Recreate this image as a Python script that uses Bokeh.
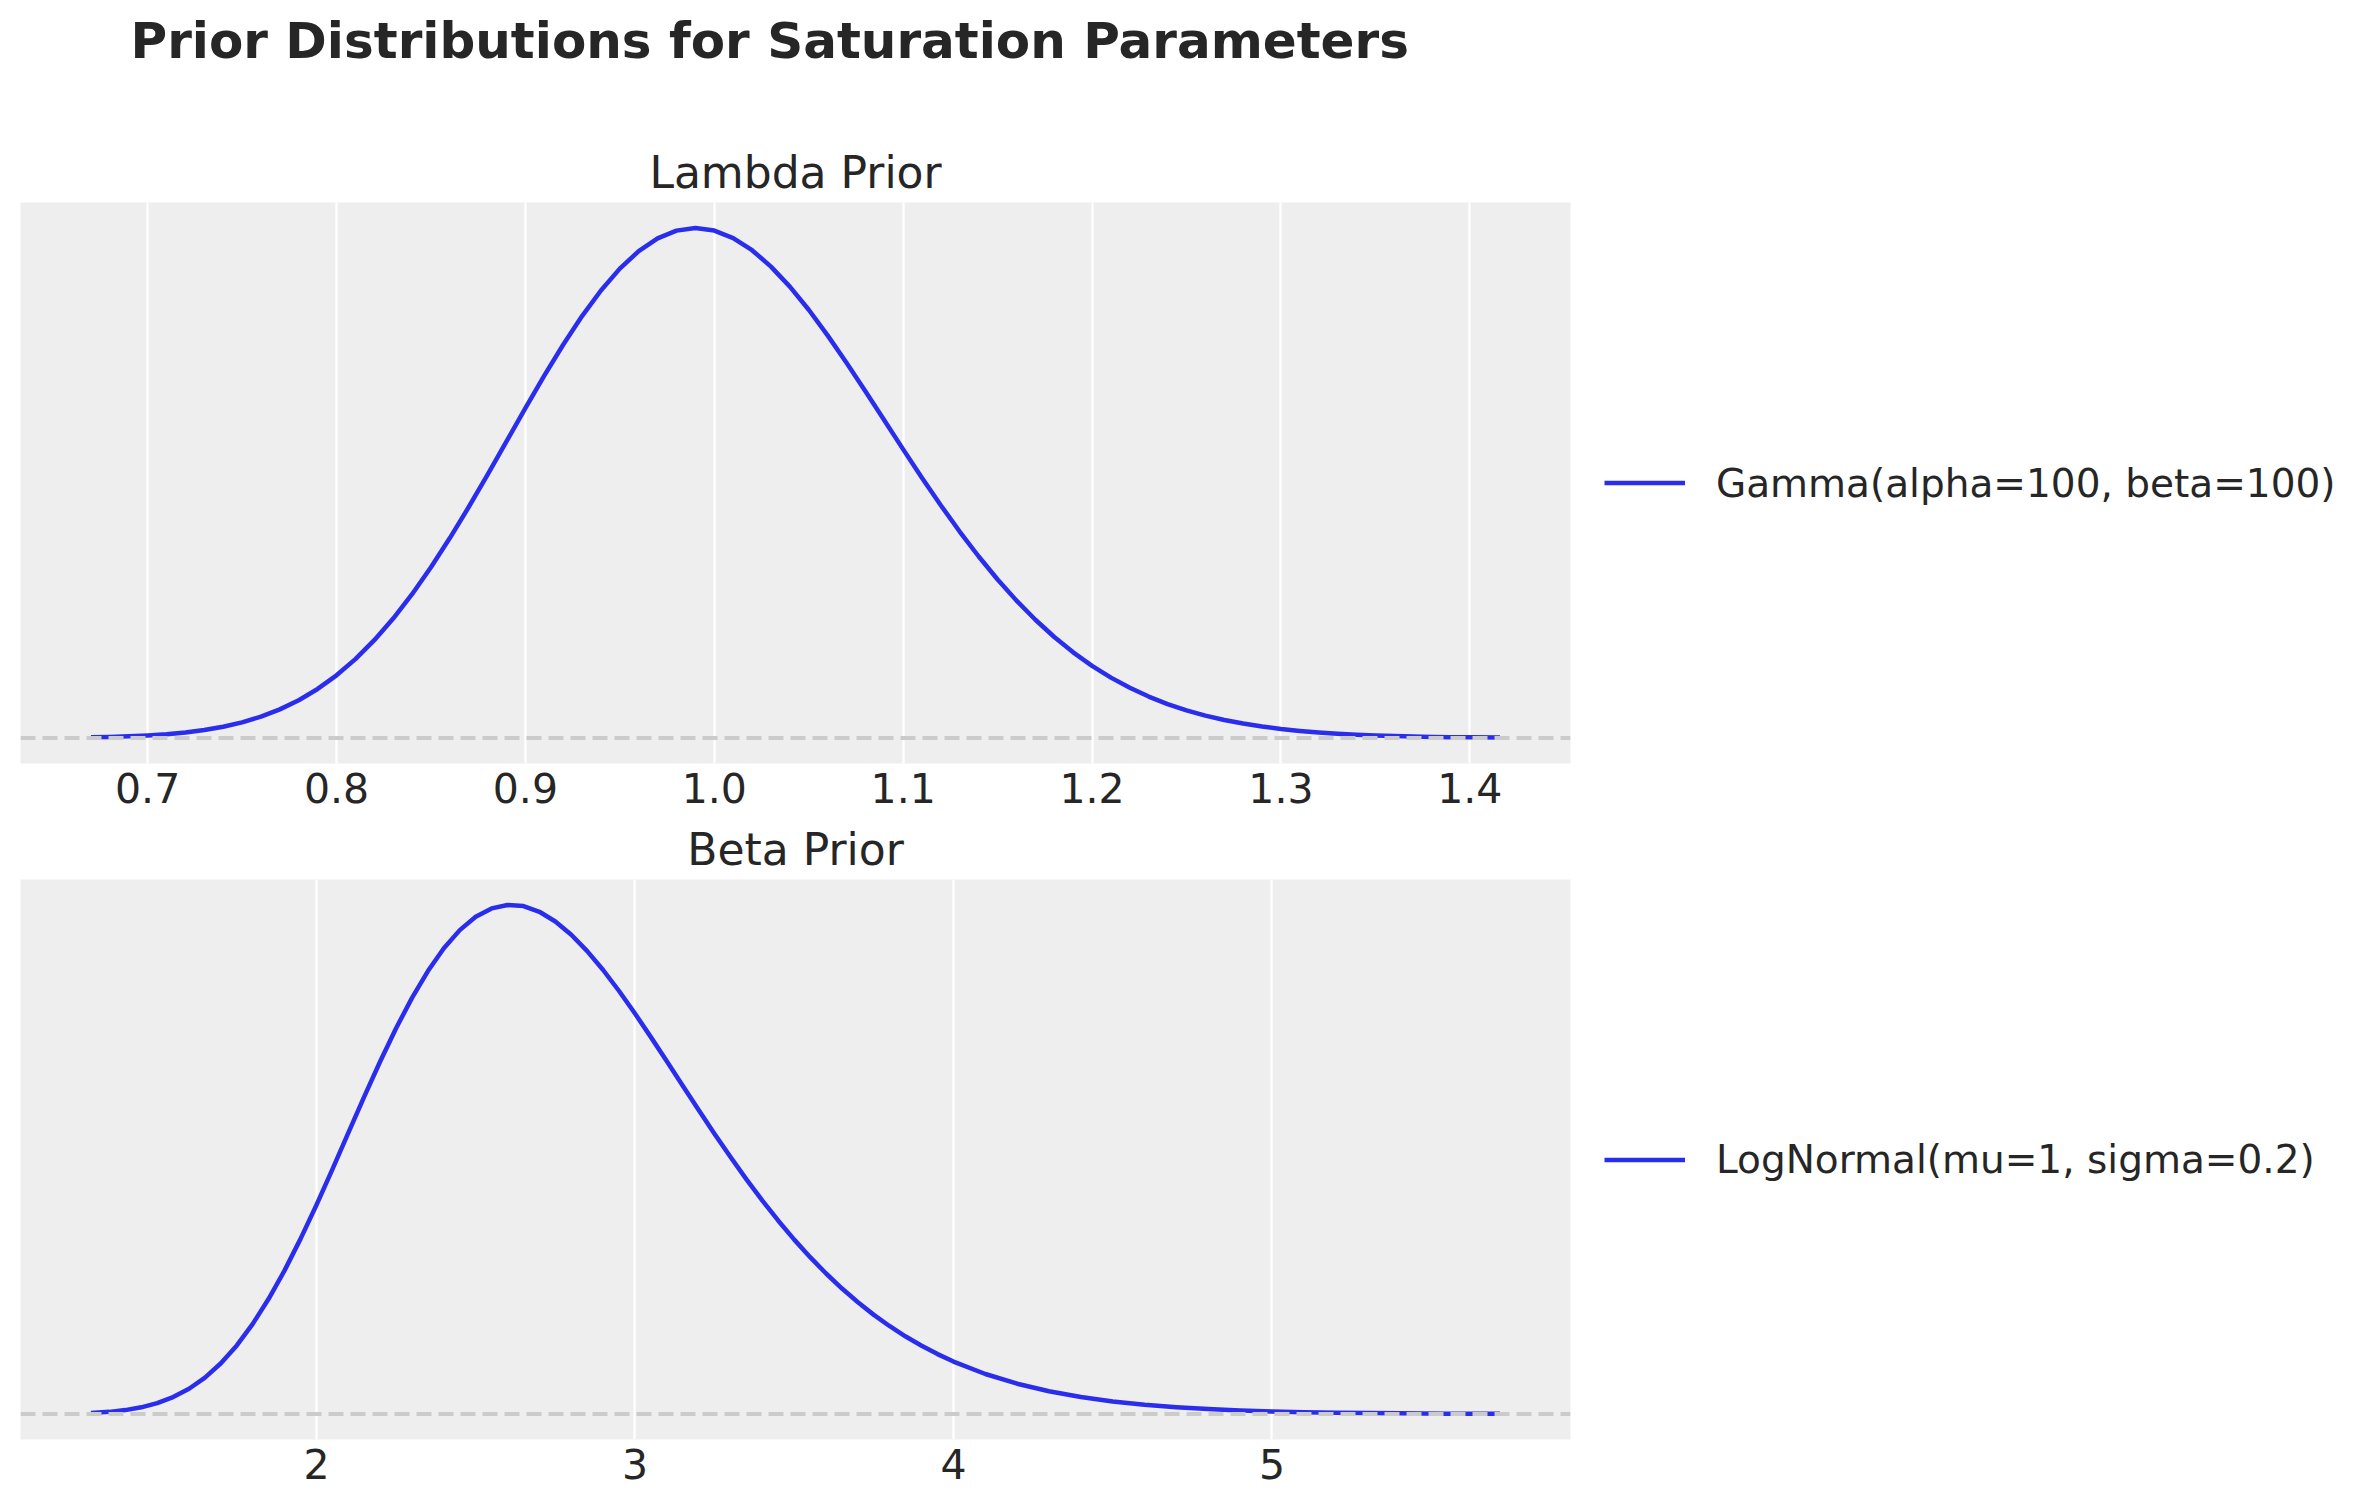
from bokeh.plotting import figure
from bokeh.models import Range1d, Span, Legend, LegendItem, FixedTicker, NumeralTickFormatter
from bokeh.layouts import column
from bokeh.embed import file_html
from bokeh.resources import INLINE

# ---- data ----
suptitle = "Prior Distributions for Saturation Parameters"

lambda_title = "Lambda Prior"
lambda_label = "Gamma(alpha=100, beta=100)"
lambda_x = [0.67, 0.68, 0.69, 0.70, 0.71, 0.72, 0.73, 0.74, 0.75, 0.76, 0.77, 0.78, 0.79,
            0.80, 0.81, 0.82, 0.83, 0.84, 0.85, 0.86, 0.87, 0.88, 0.89, 0.90, 0.91, 0.92,
            0.93, 0.94, 0.95, 0.96, 0.97, 0.98, 0.99, 1.00, 1.01, 1.02, 1.03, 1.04, 1.05,
            1.06, 1.07, 1.08, 1.09, 1.10, 1.11, 1.12, 1.13, 1.14, 1.15, 1.16, 1.17, 1.18,
            1.19, 1.20, 1.21, 1.22, 1.23, 1.24, 1.25, 1.26, 1.27, 1.28, 1.29, 1.30, 1.31,
            1.32, 1.33, 1.34, 1.35, 1.36, 1.37, 1.38, 1.39, 1.40, 1.416]
lambda_pdf = [0.0052, 0.0083, 0.0129, 0.0197, 0.0295, 0.0434, 0.0625, 0.0884, 0.1228, 0.1677,
              0.2251, 0.2970, 0.3856, 0.4927, 0.6201, 0.7687, 0.9388, 1.1304, 1.3420, 1.5715,
              1.8158, 2.0710, 2.3319, 2.5929, 2.8483, 3.0913, 3.3167, 3.5178, 3.6895, 3.8273,
              3.9277, 3.9884, 4.0090, 3.9889, 3.9299, 3.8343, 3.7056, 3.5480, 3.3661, 3.1650,
              2.9498, 2.7256, 2.4971, 2.2688, 2.0446, 1.8277, 1.6210, 1.4267, 1.2460, 1.0801,
              0.9295, 0.7942, 0.6737, 0.5675, 0.4746, 0.3944, 0.3256, 0.2670, 0.2176, 0.1762,
              0.1417, 0.1134, 0.0901, 0.0712, 0.0559, 0.0437, 0.0339, 0.0262, 0.0201, 0.0154,
              0.0117, 0.0088, 0.0066, 0.0050, 0.0030]
lambda_ticks = [0.7, 0.8, 0.9, 1.0, 1.1, 1.2, 1.3, 1.4]

beta_title = "Beta Prior"
beta_label = "LogNormal(mu=1, sigma=0.2)"
beta_x = [1.292, 1.35, 1.40, 1.45, 1.50, 1.55, 1.60, 1.65, 1.70, 1.75, 1.80, 1.85, 1.90,
          1.95, 2.00, 2.05, 2.10, 2.15, 2.20, 2.25, 2.30, 2.35, 2.40, 2.45, 2.50, 2.55,
          2.60, 2.65, 2.70, 2.75, 2.80, 2.85, 2.90, 2.95, 3.00, 3.05, 3.10, 3.15, 3.20,
          3.25, 3.30, 3.35, 3.40, 3.45, 3.50, 3.55, 3.60, 3.65, 3.70, 3.75, 3.80, 3.85,
          3.90, 3.95, 4.00, 4.10, 4.20, 4.30, 4.40, 4.50, 4.60, 4.70, 4.80, 4.90, 5.00,
          5.10, 5.20, 5.30, 5.40, 5.55, 5.716]
beta_pdf = [0.0015, 0.0032, 0.0058, 0.0099, 0.0160, 0.0249, 0.0372, 0.0536, 0.0747, 0.1009,
            0.1325, 0.1694, 0.2112, 0.2575, 0.3074, 0.3597, 0.4132, 0.4665, 0.5182, 0.5671,
            0.6118, 0.6512, 0.6847, 0.7114, 0.7310, 0.7433, 0.7484, 0.7467, 0.7384, 0.7241,
            0.7046, 0.6806, 0.6528, 0.6219, 0.5888, 0.5541, 0.5185, 0.4826, 0.4469, 0.4118,
            0.3778, 0.3450, 0.3137, 0.2842, 0.2564, 0.2306, 0.2066, 0.1845, 0.1643, 0.1458,
            0.1291, 0.1139, 0.1003, 0.0881, 0.0772, 0.0589, 0.0446, 0.0335, 0.0250, 0.0185,
            0.0136, 0.0100, 0.0073, 0.0053, 0.0038, 0.0028, 0.0020, 0.0014, 0.0010, 0.0006,
            0.0004]
beta_ticks = [2, 3, 4, 5]

# ---- style ----
FONT = "DejaVu Sans"
TEXT = "#262626"
LINE = "#2a2eec"
BG = "#eeeeee"
FRAME_W = 1550
LEFT = 20


def style_title(p, text, size, style, standoff, align="center", offset=0):
    p.title.text = text
    p.title.align = align
    p.title.offset = offset
    p.title.text_font = FONT
    p.title.text_font_size = size
    p.title.text_font_style = style
    p.title.text_color = TEXT
    p.title.standoff = standoff


def panel(xs, ys, ticks, fmt, title, label, top_border, frame_h, bottom_border):
    lo, hi = min(xs), max(xs)
    pad = 0.05 * (hi - lo)
    ymax = max(ys)
    p = figure(frame_width=FRAME_W, frame_height=frame_h,
               x_range=Range1d(lo - pad, hi + pad),
               y_range=Range1d(-0.05 * ymax, 1.05 * ymax),
               output_backend="svg", toolbar_location=None,
               min_border_left=LEFT, min_border_right=0,
               min_border_top=top_border, min_border_bottom=bottom_border)
    p.background_fill_color = BG
    p.border_fill_color = "white"
    p.outline_line_color = None
    p.yaxis.visible = False
    p.ygrid.grid_line_color = None
    p.xgrid.grid_line_color = "white"
    p.xgrid.grid_line_width = 2.3
    p.xaxis.ticker = FixedTicker(ticks=ticks)
    p.xaxis.formatter = NumeralTickFormatter(format=fmt)
    p.xaxis.axis_line_color = None
    p.xaxis.major_tick_line_color = None
    p.xaxis.minor_tick_line_color = None
    p.xaxis.major_label_text_font = FONT
    p.xaxis.major_label_text_font_size = "41px"
    p.xaxis.major_label_text_color = TEXT
    p.xaxis.major_label_standoff = 3

    style_title(p, title, "44px", "normal", 9)

    p.add_layout(Span(location=0, dimension="width", line_color="#cbcbcb",
                      line_width=4, line_dash="15 7"))
    r = p.line(xs, ys, line_color=LINE, line_width=4.5, line_join="round")

    legend = Legend(items=[LegendItem(label=label, renderers=[r])],
                    location="center_left", margin=34, padding=0,
                    border_line_color=None, background_fill_alpha=0,
                    glyph_width=81, label_standoff=31,
                    label_text_font=FONT, label_text_font_size="39px",
                    label_text_color=TEXT)
    p.add_layout(legend, "right")
    return p


# header figure carrying the overall title (its frame is a blank 1px strip)
p0 = figure(frame_width=FRAME_W, frame_height=1, output_backend="svg", toolbar_location=None,
            min_border_left=LEFT, min_border_right=0, min_border_top=74, min_border_bottom=0,
            x_range=Range1d(0, 1), y_range=Range1d(0, 1))
p0.axis.visible = False
p0.grid.visible = False
p0.outline_line_color = None
p0.background_fill_color = "white"
style_title(p0, suptitle, "50px", "bold", 10, align="left", offset=110)

p1 = panel(lambda_x, lambda_pdf, lambda_ticks, "0.0", lambda_title, lambda_label, 127, 561, 54)
p2 = panel(beta_x, beta_pdf, beta_ticks, "0", beta_title, beta_label, 58, 560, 50)

layout = column(p0, p1, p2)
open("out.html", "w").write(file_html(layout, INLINE))
